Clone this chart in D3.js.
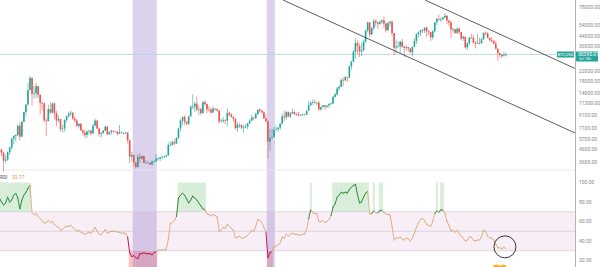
<!DOCTYPE html>
<html><head><meta charset="utf-8">
<script src="https://cdn.jsdelivr.net/npm/d3@7"></script>
<style>html,body{margin:0;padding:0;background:#fff;overflow:hidden}svg{display:block}</style>
</head><body><svg id="c" width="600" height="267"></svg>
<script>
// Weekly BTCUSD candles, first week starting 2017-08-28
const firstOpen = 4390;
const closes = [4580,4330,3690,3780,4380,4800,5700,6000,6150,7380,5950,8000,9700,11250,15000,19100,13900,14100,16200,13600,
11600,11500,8200,8100,10300,9600,11500,9500,8200,8450,6900,7000,8300,8900,9400,9600,8500,8200,7350,7700,
6750,6450,6150,6600,6700,6350,7400,8200,7000,6300,6400,6700,7250,6250,6500,6700,6600,6580,6300,6500,
6400,6400,6450,5550,4000,4150,3550,3250,4000,3850,4050,3550,3550,3550,3420,3650,3650,3850,3850,3950,
4000,4000,4100,5050,5050,5350,5200,5800,7000,8200,8800,8000,7700,8900,10800,10800,11450,10200,10300,9500,
11800,11400,10200,10150,9600,10400,10300,10000,8050,8150,8300,8200,9550,9200,8800,8500,7050,7500,7500,7100,
7150,7300,7750,8200,8700,8600,9350,10150,9900,9650,8550,8050,5400,5800,5900,6800,6900,7100,7700,8900,
8750,9700,8900,9450,9700,9350,9300,9100,9100,9250,9200,9950,11100,11700,11800,11650,11700,10250,10700,11100,
10800,11050,11400,11500,13100,13800,15450,16050,18400,18200,19350,19250,24000,26450,32000,38200,36000,32300,33100,39200,
48600,57500,45200,51200,59000,57400,55900,58000,59800,56200,49100,56600,58200,46400,34800,35600,35800,39100,35500,34700,
35300,34200,31800,35400,39900,45600,47100,49300,48900,51800,48100,47300,42700,48200,57500,61500,60900,61300,63300,65500,
59700,57300,50000,50100,46700,50800,47300,41800,43100,35000,37900,42400,42200,38400,37700,38000,37800,41300,46800,46400,
42200,40400,39500,37700,34100,31300,30300,29450,29900,30395.01];
const highs = [4980,4700,4400,4100,4450,4900,5850,6150,6250,7600,7880,8100,9750,11400,17200,19800,19300,16500,17250,16300,
13800,12000,11700,8600,11200,11800,11700,11700,9900,9100,8500,7500,8400,9000,9750,9950,9600,8900,8500,7780,
7750,6900,6800,6650,6850,6800,7700,8500,8200,7150,6600,6800,7400,7400,6600,6800,6700,6650,6620,7500,
6580,6450,6550,6500,5600,4400,4150,3600,4200,4250,4100,4100,3750,3650,3500,3700,3700,4200,3950,3990,
4050,4100,4150,5300,5450,5500,5650,5900,7100,8400,8900,9100,8100,9000,11000,13800,12000,13200,11000,10600,
12100,12300,11500,10900,10600,10900,10450,10300,10000,8500,8800,8400,10400,9800,9500,8900,8500,7900,7750,7600,
7500,7650,7800,8400,9200,8800,9600,10200,10500,10200,9900,9200,8200,6900,6950,7200,7450,7200,7750,9450,
10000,9900,9800,9700,10400,9950,9600,9800,9300,9450,9300,9990,12100,11900,12450,12450,11800,12100,10800,11150,
11050,11050,11550,11750,13350,14050,15950,16500,18800,19400,19900,19400,24300,26800,33300,41900,40000,37800,38400,40900,
49700,58300,57500,52600,61800,61000,58400,60000,61300,64900,57000,58500,59500,59600,46600,40900,39500,40000,41300,36000,
36600,35100,34700,35500,42300,46200,48100,49400,50500,52000,52900,48800,47400,49200,57800,62900,67000,63700,64300,69000,
66300,59900,59400,51900,50600,51900,52100,47600,44400,43500,38900,43000,45800,44700,39800,45400,42300,42300,47000,48200,
47200,42400,42900,40800,40000,34300,31400,30600,32200,31600];
const lows = [4350,4050,2970,3500,3680,4150,4600,5100,5400,6000,5500,5900,7900,9000,11000,15000,11000,12600,12800,12800,
9200,10000,7900,6000,8100,9300,9400,8400,7300,7900,6600,6450,6600,7900,8700,9000,8300,7900,7250,7000,
6650,6100,5800,5800,6200,6100,6300,7300,6900,5950,5880,6300,6700,6150,6150,6200,6400,6500,6100,6280,
6350,6250,6300,5200,3500,3650,3300,3150,3250,3550,3750,3500,3500,3500,3380,3380,3550,3600,3700,3650,
3800,3950,3950,4100,4950,5000,5000,5150,5700,6600,7500,7500,7450,7500,8900,10300,9700,9900,9100,9100,
9400,11000,9500,9800,9350,9600,9900,9750,7700,7900,7800,7600,7300,8900,8700,8000,6800,6500,7100,6900,
6450,7050,6900,7700,8100,8200,8500,9150,9600,9400,8450,8000,3850,4500,5700,5900,6800,6500,6800,7600,
8100,8300,8700,8600,9300,9100,9000,8900,8950,9050,9050,9150,9900,11000,11200,11500,11100,9900,9900,10650,
10150,10450,10550,11200,11400,12900,13300,14850,15900,16200,18000,17600,19000,22400,26000,28000,30400,28900,29300,32300,
38000,47000,43000,44900,49200,53200,50400,54800,55500,51500,47000,48800,53000,43800,30000,31100,34800,31000,34800,28800,
32700,32100,31000,29300,35200,37500,42800,43900,46500,46500,42800,44800,39600,40800,46900,54400,59700,58000,59400,62300,
55600,53300,42000,46800,45600,45500,45700,40500,39700,34000,32900,36300,41700,37900,34300,37500,37200,38100,40500,44300,
41900,39200,38600,37600,33700,26700,28700,28000,29300,29300];
// Weekly RSI values
const rsi = [84,80,77,79,85,80,82,87,89,84,73,82,87,90,94,97,69,67,68,65,
63,61,58,59,61,59,60,57,55,54,51,52,54,55,55,56,54,52,50,51,
49,48,47,48,49,48,51,54,50,47,47,49,52,48,49,50,50,50,49,49,
48,48,48,44,28,24,25,23,22,27,27,28,27,27,27,26,28,29,30.5,30.5,
31,31,31.5,42,58,59,61,65,84,87,89,87,83,79,82,86,84,82,79,76,
73,72,68,67,66,67,66,65,50,51,54,53,57,55,53,51,43,44,45,43,
43,44,46,48,51,50,55,62,61,59,54,49,23,28,29.5,34,35,36,38,44,
43,47,45,47,48,47,47,46,46,47,47,52,63,72,69,68,68,60,60,61,
59,60,62,66,75,78,85,87,90,89,90,89,93,95,97,98,88,79,80,85,
89,91,68,68,71,69,69,71,71.5,69,68,67,67,55,41,43,43,44,42,41,
43,42,40,43,48,54,59,62,63,61,57,56,55,60,68,71,69.5,72,71.5,68,
60,56,50,51,49,51,48,45,43,40,41,44,44,41,40,41,41,44,51,50,
45,43,43,41,37,33,33,32,33.5,32.17];

const priceTicks = [78000,54000,44000,36000,22000,18000,14000,11500,9100,7100,5700,4600,3600];
const rsiTicks = [100,80,60,40,20];
const rsiLevels = [70,50,30];
const highlightBands = [[65.5,77.3],[131.4,135.4]];
const channelLines = [[[209.2,89600],[283,23000]],[[139.4,89600],[283,6400]]];
const symbolName = "BTCUSD";
const lastPrice = 30395.01;
const lastPriceSub = "5d 18h";
const rsiTitle = "RSI";
const rsiLast = "32.17";
const circleMark = [248.5, 34];
const coinMarks = [244.4, 247.6];

const W = 600, H = 267, AX = 575, PANE = 170;
const svg = d3.select("#c");
const x = d3.scaleLinear().domain([0, 283]).range([-0.5, 575.1]);
const y = d3.scaleLog().domain([78000, 3600]).range([7, 162]);
const yr = d3.scaleLinear().domain([100, 20]).range([182.5, 260.5]);
const fmt = d3.format(".2f");

const n = closes.length;
const candles = d3.range(n).map(i => ({
  i, o: i === 0 ? firstOpen : closes[i-1], c: closes[i], h: highs[i], l: lows[i]
}));

// RSI pane backgrounds
svg.append("rect").attr("x", 0).attr("width", AX).attr("y", yr(70)).attr("height", yr(30) - yr(70)).attr("fill", "#f8eef6");
const step = x(1) - x(0);
svg.append("g").selectAll("rect.g").data(d3.range(n).filter(i => rsi[i] > 70)).join("rect")
  .attr("x", i => x(i - 0.5)).attr("width", step + 0.2)
  .attr("y", yr(100)).attr("height", yr(70) - yr(100)).attr("fill", "rgba(76,175,80,0.2)");
svg.append("g").selectAll("rect.r").data(d3.range(n).filter(i => rsi[i] < 30)).join("rect")
  .attr("x", i => x(i - 0.5)).attr("width", step + 0.2)
  .attr("y", yr(30)).attr("height", H - yr(30)).attr("fill", "rgba(229,57,53,0.28)");

// Highlight bands
svg.append("g").selectAll("rect").data(highlightBands).join("rect")
  .attr("x", d => x(d[0])).attr("width", d => x(d[1]) - x(d[0]))
  .attr("y", 0).attr("height", H).attr("fill", "rgba(126,87,194,0.27)");

// RSI level lines, pane separator
svg.append("g").selectAll("line").data(rsiLevels).join("line")
  .attr("x1", 0).attr("x2", AX).attr("y1", d => yr(d)).attr("y2", d => yr(d))
  .attr("stroke", "#cfc8d4").attr("stroke-width", 0.7);
svg.append("line").attr("x1", 0).attr("x2", AX).attr("y1", PANE).attr("y2", PANE)
  .attr("stroke", "#e4e4e4").attr("stroke-width", 0.8);

// Current price line
svg.append("line").attr("x1", 0).attr("x2", AX).attr("y1", y(lastPrice)).attr("y2", y(lastPrice))
  .attr("stroke", "#a9d8e6").attr("stroke-width", 0.8);

// Candles
const cg = svg.append("g");
cg.selectAll("line").data(candles).join("line")
  .attr("x1", d => x(d.i)).attr("x2", d => x(d.i))
  .attr("y1", d => y(d.h)).attr("y2", d => y(d.l))
  .attr("stroke", d => d.c >= d.o ? "#26a69a" : "#ef5350").attr("stroke-width", 0.6);
cg.selectAll("rect").data(candles).join("rect")
  .attr("x", d => x(d.i) - 0.8).attr("width", 1.6)
  .attr("y", d => y(Math.max(d.o, d.c)))
  .attr("height", d => Math.max(0.7, Math.abs(y(d.o) - y(d.c))))
  .attr("fill", d => d.c >= d.o ? "#26a69a" : "#ef5350");

// Channel lines
svg.append("clipPath").attr("id", "pc").append("rect").attr("x", 0).attr("y", 0).attr("width", AX).attr("height", PANE);
svg.append("g").attr("clip-path", "url(#pc)").selectAll("line").data(channelLines).join("line")
  .attr("x1", d => x(d[0][0])).attr("y1", d => y(d[0][1]))
  .attr("x2", d => x(d[1][0])).attr("y2", d => y(d[1][1]))
  .attr("stroke", "#333").attr("stroke-width", 0.8);

// RSI line
const rg = svg.append("g");
rg.selectAll("line").data(d3.range(1, n)).join("line")
  .attr("x1", i => x(i - 1)).attr("y1", i => yr(rsi[i - 1]))
  .attr("x2", i => x(i)).attr("y2", i => yr(rsi[i]))
  .attr("stroke", i => rsi[i] > 70 ? "#2e8b3a" : (rsi[i] < 30 ? "#c2185b" : "#d9a06a"))
  .attr("stroke-width", i => (rsi[i] > 70 || rsi[i] < 30) ? 1 : 0.8)
  .attr("stroke-linecap", "round");

// Circle annotation
svg.append("circle").attr("cx", x(circleMark[0])).attr("cy", yr(circleMark[1])).attr("r", 11)
  .attr("fill", "none").attr("stroke", "#222").attr("stroke-width", 0.9);
// Orange marks at bottom
svg.append("g").selectAll("circle").data(coinMarks).join("circle")
  .attr("cx", d => x(d)).attr("cy", 268.5).attr("r", 4).attr("fill", "#f2b22e");

// Right axis
svg.append("line").attr("x1", AX + 0.5).attr("x2", AX + 0.5).attr("y1", 0).attr("y2", H)
  .attr("stroke", "#a0a0a0").attr("stroke-width", 0.8);
const font = "Roboto, 'DejaVu Sans', sans-serif";
svg.append("g").selectAll("text").data(priceTicks).join("text")
  .attr("x", AX + 4).attr("y", d => y(d)).attr("dy", "0.35em")
  .attr("font-family", font).attr("font-size", 5).attr("fill", "#8a8a8a").text(d => fmt(d));
svg.append("g").selectAll("text").data(rsiTicks).join("text")
  .attr("x", AX + 4).attr("y", d => yr(d)).attr("dy", "0.35em")
  .attr("font-family", font).attr("font-size", 5).attr("fill", "#8a8a8a").text(d => fmt(d));

// Last price labels
const py = y(lastPrice);
svg.append("rect").attr("x", 557).attr("y", py - 3).attr("width", 17).attr("height", 6).attr("fill", "#26a69a");
svg.append("text").attr("x", 565.5).attr("y", py).attr("dy", "0.35em").attr("text-anchor", "middle")
  .attr("font-family", font).attr("font-size", 4.3).attr("fill", "#fff").text(symbolName);
svg.append("rect").attr("x", AX + 1).attr("y", py - 3).attr("width", 22).attr("height", 10).attr("fill", "#26a69a");
svg.append("text").attr("x", AX + 3).attr("y", py).attr("dy", "0.35em")
  .attr("font-family", font).attr("font-size", 5).attr("fill", "#fff").text(fmt(lastPrice));
svg.append("text").attr("x", AX + 4).attr("y", py + 4.5).attr("dy", "0.35em")
  .attr("font-family", font).attr("font-size", 4).attr("fill", "#e0f2f1").text(lastPriceSub);

// RSI legend
svg.append("text").attr("x", 0).attr("y", 177.5).attr("dy", "0.35em")
  .attr("font-family", font).attr("font-size", 5).attr("fill", "#555").text(rsiTitle);
svg.append("text").attr("x", 12).attr("y", 177.5).attr("dy", "0.35em")
  .attr("font-family", font).attr("font-size", 5).attr("fill", "#e0913f").text(rsiLast);
</script></body></html>
